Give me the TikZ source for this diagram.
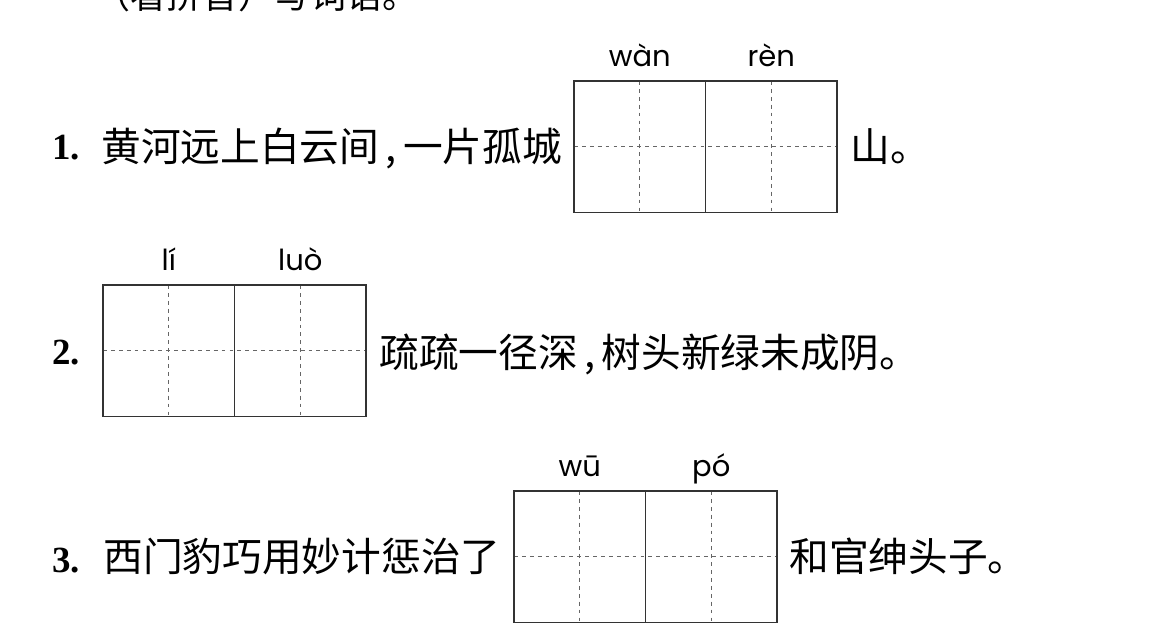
\documentclass[tikz,border=0pt]{standalone}
\usepackage{fontspec}
\setmainfont{Liberation Serif}
\newfontfamily\cjkfont{Noto Sans CJK SC}
\newfontfamily\pyfont{Poppins}
\newcommand\dou{\makebox[0.6em]{,}}

\tikzset{
  gridbox/.style={draw=black!80, line width=0.9pt},
  guide/.style={draw=black!60, line width=0.5pt, dash pattern=on 2.2pt off 2.3pt},
  hanzi/.style={anchor=base west, inner sep=0pt, font=\cjkfont\fontsize{22.6}{27}\selectfont},
  num/.style={anchor=base west, inner sep=0pt, font=\bfseries\fontsize{21}{26}\selectfont},
  pinyin/.style={anchor=base, inner sep=0pt, font=\pyfont\fontsize{16.5}{20}\selectfont}
}

\begin{document}
\begin{tikzpicture}[x=0.02cm, y=-0.02cm]
    \useasboundingbox (0,0) rectangle (1163,630);
    \clip (0,0) rectangle (1163,630);
    % heading, cut off at the top edge
    \node[hanzi, font=\cjkfont\fontsize{20.5}{24}\selectfont] (head) at (94,8) {（看拼音）写词语。};
    % writing grids: two squares each, dashed guides first
    \foreach \x/\y in {574/81, 103/285, 514/491} {
      \draw[guide] (\x,\y+65.75) -- (\x+263,\y+65.75);
      \draw[guide] (\x+65.75,\y) -- (\x+65.75,\y+131.5);
      \draw[guide] (\x+197.25,\y) -- (\x+197.25,\y+131.5);
      \draw[gridbox] (\x,\y) rectangle (\x+263,\y+131.5);
      \draw[gridbox] (\x+131.5,\y) -- (\x+131.5,\y+131.5);
    }
    % line 1
    \node[num] (n1) at (52,159) {1.};
    \node[hanzi] (s1a) at (101,161) {黄河远上白云间\dou 一片孤城};
    \node[hanzi] (s1b) at (850,161) {山。};
    \node[pinyin] (py1a) at (639.75,66) {wàn};
    \node[pinyin] (py1b) at (771.25,66) {rèn};
    % line 2
    \node[num] (n2) at (52,364) {2.};
    \node[hanzi] (s2) at (379,367) {疏疏一径深\dou 树头新绿未成阴。};
    \node[pinyin] (py2a) at (168.75,270) {lí};
    \node[pinyin] (py2b) at (300.25,270) {luò};
    % line 3
    \node[num] (n3) at (52,572) {3.};
    \node[hanzi] (s3a) at (103,571) {西门豹巧用妙计惩治了};
    \node[hanzi] (s3b) at (789,571) {和官绅头子。};
    \node[pinyin] (py3a) at (579.75,476) {wū};
    \node[pinyin] (py3b) at (711.25,476) {pó};
\end{tikzpicture}
\end{document}
